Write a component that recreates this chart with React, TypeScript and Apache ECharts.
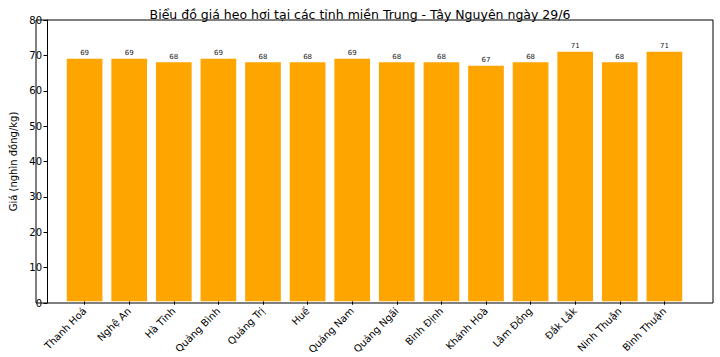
import React, { useEffect, useRef } from "react";
import * as echarts from "echarts";

const categories = ["Thanh Hoá", "Nghệ An", "Hà Tĩnh", "Quảng Bình", "Quảng Trị", "Huế", "Quảng Nam", "Quảng Ngãi", "Bình Định", "Khánh Hoà", "Lâm Đồng", "Đắk Lắk", "Ninh Thuận", "Bình Thuận"];
const prices = [69, 69, 68, 69, 68, 68, 69, 68, 68, 67, 68, 71, 68, 71];

const FONT = "DejaVu Sans";

export default function App() {
  const ref = useRef<HTMLDivElement>(null);
  useEffect(() => {
    if (!ref.current) return;
    const chart = echarts.init(ref.current, undefined, { renderer: "svg" });
    // frame: x 36..713, y 20..303 ; bars occupy 15.18 units of width with 14 centred bands
    const L = 36, R = 713, T = 20, B = 303;
    const unit = (R - L) / 15.18;
    const barsLeft = L + (1.09 - 0.5) * unit;
    const barsRight = barsLeft + 14 * unit;
    chart.setOption({
      animation: false,
      backgroundColor: "#ffffff",
      title: {
        text: "Biểu đồ giá heo hơi tại các tỉnh miền Trung - Tây Nguyên ngày 29/6",
        left: "center",
        top: 3,
        textStyle: { fontFamily: FONT, fontSize: 12.5, fontWeight: "normal", color: "#000" },
      },
      grid: [
        { left: L, right: 720 - R, top: T, bottom: 357 - B },
        { left: barsLeft, right: 720 - barsRight, top: T, bottom: 357 - B },
      ],
      xAxis: [
        { type: "value", gridIndex: 0, min: 0, max: 1, show: false },
        {
          type: "category",
          gridIndex: 1,
          data: categories,
          boundaryGap: true,
          axisLine: { show: false },
          axisTick: { show: true, alignWithLabel: true, length: 3.5, lineStyle: { color: "#000" } },
          axisLabel: {
            interval: 0,
            rotate: 45,
            fontFamily: FONT,
            fontSize: 10,
            color: "#000",
            margin: 8,
          },
        },
      ],
      yAxis: [
        {
          type: "value",
          gridIndex: 0,
          min: 0,
          max: 80,
          interval: 10,
          name: "Giá (nghìn đồng/kg)",
          nameLocation: "middle",
          nameGap: 29,
          nameTextStyle: { fontFamily: FONT, fontSize: 10, color: "#000" },
          splitLine: { show: false },
          axisLine: { show: true, onZero: false, lineStyle: { color: "#000", width: 1 } },
          axisTick: { show: true, length: 3.5, lineStyle: { color: "#000" } },
          axisLabel: { fontFamily: FONT, fontSize: 10, color: "#000", margin: 5 },
        },
        { type: "value", gridIndex: 1, min: 0, max: 80, interval: 10, show: false },
      ],
      series: [
        {
          type: "bar",
          xAxisIndex: 1,
          yAxisIndex: 1,
          data: prices,
          barWidth: "80%",
          itemStyle: { color: "#FFA500" },
          label: {
            show: true,
            position: "top",
            distance: 2,
            fontFamily: FONT,
            fontSize: 7,
            color: "#222",
          },
        },
      ],
      graphic: [
        {
          type: "rect",
          shape: { x: L, y: T, width: R - L, height: B - T },
          style: { fill: "none", stroke: "#000", lineWidth: 1 },
          silent: true,
          z: 100,
        },
      ],
    });
    return () => chart.dispose();
  }, []);
  return <div ref={ref} style={{ width: 720, height: 357, position: "absolute", left: 0, top: 0 }} />;
}
